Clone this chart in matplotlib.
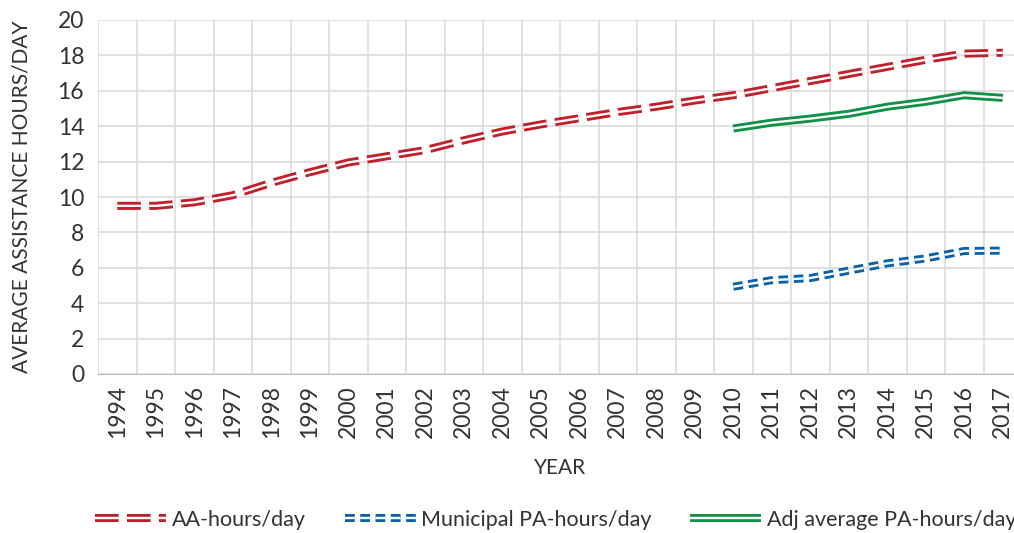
import matplotlib
matplotlib.use("Agg")
import matplotlib.pyplot as plt
import numpy as np
from matplotlib.legend_handler import HandlerTuple

plt.rcParams['font.family'] = ['Lato', 'DejaVu Sans']
plt.rcParams['lines.scale_dashes'] = False

years = [str(y) for y in range(1994, 2018)]
aa_hours = [9.5, 9.5, 9.7, 10.1, 10.8, 11.4, 11.95, 12.3, 12.65, 13.2, 13.7, 14.1,
            14.45, 14.8, 15.1, 15.45, 15.75, 16.15, 16.55, 16.95, 17.35, 17.75, 18.1, 18.15]
municipal_years = years[16:]
municipal_pa = [4.93, 5.3, 5.42, 5.84, 6.25, 6.53, 6.95, 6.97]
adj_pa = [13.87, 14.2, 14.43, 14.7, 15.1, 15.38, 15.75, 15.6]

red = '#c0202a'
blue = '#0a62a8'
green = '#0f9248'
text_col = '#333333'

fig = plt.figure(figsize=(10.14, 5.33), dpi=100)
ax = fig.add_axes([98 / 1014, 159 / 533, 924 / 1014, 354 / 533])

x_all = np.arange(len(years))
x_sub = np.arange(16, 24)

def double_line(x, y, color, dashes=None):
    kw = dict(solid_capstyle='butt', dash_capstyle='butt', solid_joinstyle='round')
    if dashes:
        kw['dashes'] = dashes
    outer, = ax.plot(x, y, color=color, lw=5.8, **kw)
    inner, = ax.plot(x, y, color='white', lw=1.7, **kw)
    return (outer, inner)

h_aa = double_line(x_all, aa_hours, red, dashes=(17, 6))
h_mun = double_line(x_sub, municipal_pa, blue, dashes=(7, 4))
h_adj = double_line(x_sub, adj_pa, green)

ax.set_xlim(-0.5, len(years) - 0.5)
ax.set_ylim(0, 20)
ax.set_yticks(np.arange(0, 21, 2))
ax.set_xticks(x_all)
ax.set_xticklabels(years, rotation=90)
ax.set_xticks(np.arange(-0.5, len(years)), minor=True)
ax.grid(axis='y', which='major', color='#d9d9d9', lw=1.1)
ax.grid(axis='x', which='minor', color='#d9d9d9', lw=1.1)
ax.set_axisbelow(True)
for s in ['top', 'right', 'left']:
    ax.spines[s].set_visible(False)
ax.spines['bottom'].set_color('#bfbfbf')
ax.tick_params(which='both', length=0, labelsize=16.5, colors=text_col)
ax.tick_params(axis='y', pad=10)
ax.tick_params(axis='x', pad=8)

ax.set_ylabel('AVERAGE ASSISTANCE HOURS/DAY', fontsize=15, color=text_col, labelpad=19)
ax.set_xlabel('YEAR', fontsize=15, color=text_col, labelpad=14)

fig.legend([h_aa, h_mun, h_adj],
           ['AA-hours/day', 'Municipal PA-hours/day', 'Adj average PA-hours/day'],
           handler_map={tuple: HandlerTuple(ndivide=1, pad=0)},
           loc='center left', bbox_to_anchor=(0.075, 0.025), ncol=3, frameon=False,
           fontsize=15.5, handlelength=3.3, handletextpad=0.25, columnspacing=1.8,
           labelcolor=text_col)

fig.savefig('out.png', dpi=100)
